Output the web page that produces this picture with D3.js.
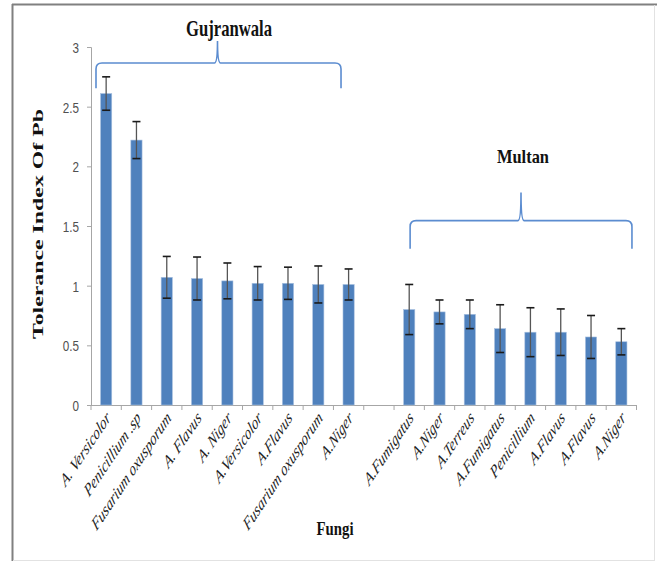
<!DOCTYPE html>
<html>
<head>
<meta charset="utf-8">
<script src="https://cdn.jsdelivr.net/npm/d3@7"></script>
<style>
  html, body { margin: 0; padding: 0; background: #fff; }
  svg { display: block; }
</style>
</head>
<body>
<svg id="chart" width="657" height="562"></svg>
<script>
// Tolerance index of Pb for fungal isolates from two sites
const gujranwalaFungi = ["A. Versicolor", "Penicillium .sp", "Fusarium oxusporum", "A. Flavus", "A. Niger",
                         "A.Versicolor", "A.Flavus", "Fusarium oxusporum", "A.Niger"];
const gujranwalaValues = [2.61, 2.22, 1.07, 1.06, 1.04, 1.02, 1.02, 1.01, 1.01];
const gujranwalaErrors = [0.14, 0.155, 0.175, 0.18, 0.15, 0.14, 0.135, 0.155, 0.13];

const multanFungi = ["A.Fumigatus", "A.Niger", "A.Terreus", "A.Fumigatus", "Penicillium",
                     "A.Flavus", "A.Flavus", "A.Niger"];
const multanValues = [0.80, 0.78, 0.76, 0.64, 0.61, 0.61, 0.57, 0.53];
const multanErrors = [0.21, 0.10, 0.12, 0.20, 0.205, 0.195, 0.18, 0.11];

const yTicks = [0, 0.5, 1, 1.5, 2, 2.5, 3];
const yTickLabels = ["0", "0.5", "1", "1.5", "2", "2.5", "3"];
const siteNames = ["Gujranwala", "Multan"];
const xTitle = "Fungi";
const yTitle = "Tolerance Index Of Pb";

// one slot per bar, with an empty slot between the two sites
const rows = [];
gujranwalaFungi.forEach((f, i) => rows.push({ key: "g" + i, name: f, value: gujranwalaValues[i], err: gujranwalaErrors[i] }));
rows.push({ key: "gap", name: "", value: null, err: null });
multanFungi.forEach((f, i) => rows.push({ key: "m" + i, name: f, value: multanValues[i], err: multanErrors[i] }));

const svg = d3.select("#chart");

// outer frame
svg.append("line").attr("x1", 12).attr("x2", 657).attr("y1", 4.5).attr("y2", 4.5)
  .attr("stroke", "#808080").attr("stroke-width", 2);
svg.append("line").attr("x1", 12.5).attr("x2", 12.5).attr("y1", 4).attr("y2", 561)
  .attr("stroke", "#808080").attr("stroke-width", 2);
svg.append("line").attr("x1", 654.5).attr("x2", 654.5).attr("y1", 5).attr("y2", 561)
  .attr("stroke", "#e2e2e2").attr("stroke-width", 1);
svg.append("line").attr("x1", 13).attr("x2", 655).attr("y1", 560.5).attr("y2", 560.5)
  .attr("stroke", "#e2e2e2").attr("stroke-width", 1);

const x = d3.scaleBand().domain(rows.map(d => d.key)).range([91, 636.5]).padding(0);
const y = d3.scaleLinear().domain([0, 3]).range([405, 47]);
const barW = x.bandwidth() * 0.37;

// y axis (labels in a narrow face)
const yAxis = d3.axisLeft(y).tickValues(yTicks).tickFormat((d, i) => yTickLabels[i]).tickSize(4).tickPadding(8);
const gy = svg.append("g").attr("transform", "translate(91,0)").call(yAxis);
gy.select(".domain").attr("stroke", "#a6a6a6");
gy.selectAll(".tick line").attr("stroke", "#a6a6a6");
gy.selectAll(".tick text")
  .attr("x", 0).attr("dy", "0.36em")
  .attr("transform", "translate(-12,0) scale(0.78,1)")
  .attr("font-family", "'Liberation Sans', Arial, sans-serif")
  .attr("font-size", 15).attr("fill", "#505050");

// x axis line with boundary ticks between slots
svg.append("line").attr("x1", 91).attr("x2", 637).attr("y1", 405.5).attr("y2", 405.5)
  .attr("stroke", "#a6a6a6");
const boundaries = rows.map(d => x(d.key)).concat([x.range()[1]]);
svg.append("g").selectAll("line").data(boundaries).join("line")
  .attr("x1", d => d).attr("x2", d => d).attr("y1", 405).attr("y2", 410)
  .attr("stroke", "#a6a6a6");

// bars
const data = rows.filter(d => d.value !== null);
const cx = d => x(d.key) + x.bandwidth() / 2;
svg.append("g").selectAll("rect").data(data).join("rect")
  .attr("x", d => cx(d) - barW / 2).attr("width", barW)
  .attr("y", d => y(d.value)).attr("height", d => y(0) - y(d.value))
  .attr("fill", "#4f81bd").attr("stroke", "#a9c1e0").attr("stroke-width", 0.6);

// error bars
const eb = svg.append("g").selectAll("g").data(data).join("g");
eb.append("line")
  .attr("x1", cx).attr("x2", cx)
  .attr("y1", d => y(d.value + d.err)).attr("y2", d => y(d.value - d.err))
  .attr("stroke", "#555").attr("stroke-width", 1.3);
eb.append("line")
  .attr("x1", d => cx(d) - 4).attr("x2", d => cx(d) + 4)
  .attr("y1", d => y(d.value + d.err)).attr("y2", d => y(d.value + d.err))
  .attr("stroke", "#1a1a1a").attr("stroke-width", 1.6);
eb.append("line")
  .attr("x1", d => cx(d) - 4).attr("x2", d => cx(d) + 4)
  .attr("y1", d => y(d.value - d.err)).attr("y2", d => y(d.value - d.err))
  .attr("stroke", "#1a1a1a").attr("stroke-width", 1.6);

// category labels: 45° slant in a horizontally condensed face
svg.append("g").selectAll("text").data(data).join("text")
  .attr("transform", d => `translate(${cx(d) + 5},${419}) scale(0.67,1) rotate(-45)`)
  .attr("text-anchor", "end")
  .attr("font-family", "'Liberation Serif', 'Times New Roman', serif")
  .attr("font-style", "italic").attr("font-size", 18.5).attr("fill", "#222")
  .text(d => d.name);

// site braces
function brace(x0, x1, xm, yBottom, yLine, yTop) {
  const r = 6;
  const p = d3.path();
  p.moveTo(x0, yBottom);
  p.lineTo(x0, yLine + r);
  p.quadraticCurveTo(x0, yLine, x0 + r, yLine);
  p.lineTo(xm - 3, yLine);
  p.quadraticCurveTo(xm, yLine, xm, yTop);
  p.quadraticCurveTo(xm, yLine, xm + 3, yLine);
  p.lineTo(x1 - r, yLine);
  p.quadraticCurveTo(x1, yLine, x1, yLine + r);
  p.lineTo(x1, yBottom);
  return p.toString();
}
const step = x.step();
const x0g = x.range()[0];
const braces = [
  { name: siteNames[0], a: x0g + 0.165 * step, b: x0g + 8.25 * step, m: 217.5,
    vb: 2.655, vl: 2.866, vt: 3.05, tx: 229, ty: 35.5, tw: 86, fs: 23 },
  { name: siteNames[1], a: x0g + 10.53 * step, b: x0g + 17.85 * step, m: 521,
    vb: 1.31, vl: 1.545, vt: 1.78, tx: 523, ty: 163, tw: 52, fs: 19 }
];
braces.forEach(bz => {
  svg.append("path")
    .attr("d", brace(bz.a, bz.b, bz.m, y(bz.vb), y(bz.vl), y(bz.vt)))
    .attr("fill", "none").attr("stroke", "#5b8cd0").attr("stroke-width", 1.6);
  svg.append("text")
    .attr("x", bz.tx - bz.tw / 2).attr("y", bz.ty)
    .attr("textLength", bz.tw).attr("lengthAdjust", "spacingAndGlyphs")
    .attr("font-family", "'Liberation Serif', 'Times New Roman', serif")
    .attr("font-weight", "bold").attr("font-size", bz.fs).attr("fill", "#111")
    .text(bz.name);
});

// axis titles
svg.append("text")
  .attr("x", 335 - 18.5).attr("y", 535)
  .attr("textLength", 37).attr("lengthAdjust", "spacingAndGlyphs")
  .attr("font-family", "'Liberation Serif', 'Times New Roman', serif")
  .attr("font-weight", "bold").attr("font-size", 19).attr("fill", "#111")
  .text(xTitle);

svg.append("text")
  .attr("transform", "translate(43,224) rotate(-90)")
  .attr("x", -115).attr("y", 0)
  .attr("textLength", 230).attr("lengthAdjust", "spacingAndGlyphs")
  .attr("font-family", "'Liberation Serif', 'Times New Roman', serif")
  .attr("font-weight", "bold").attr("font-size", 15).attr("fill", "#111")
  .text(yTitle);
</script>
</body>
</html>
